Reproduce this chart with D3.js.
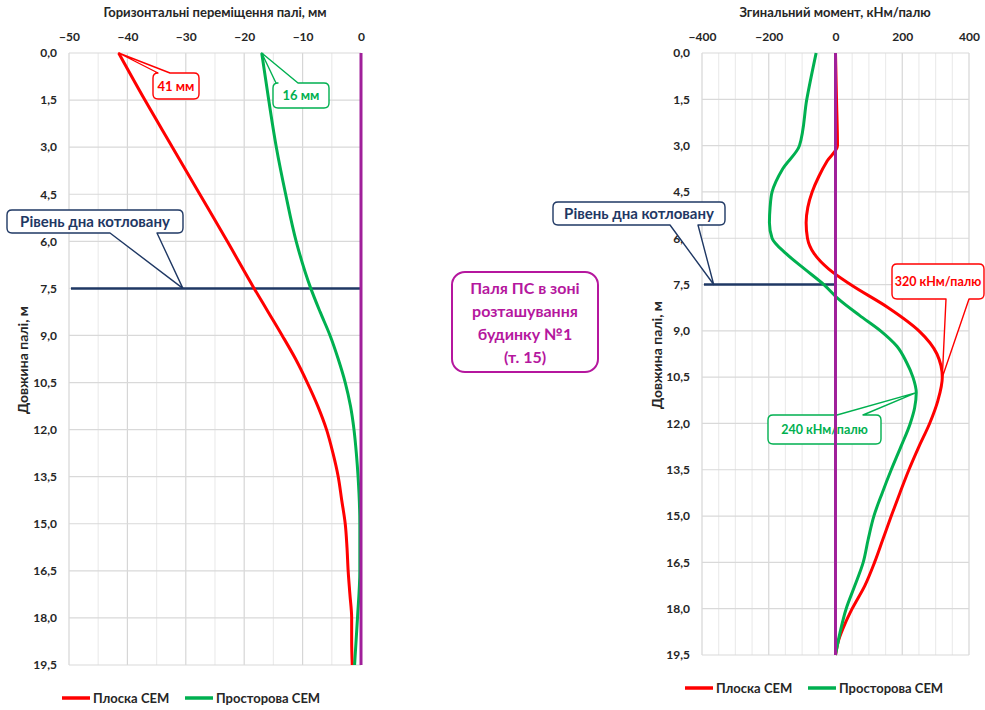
<!DOCTYPE html>
<html><head><meta charset="utf-8">
<script src="https://cdn.jsdelivr.net/npm/d3@7"></script>
<style>
body{margin:0;background:#fff}
svg{display:block}
text{font-family:Lato,'Open Sans',sans-serif;font-weight:700}
</style>
</head><body>
<svg id="c" width="985" height="710"></svg>
<script>
// ---------- DATA ----------
const depthTicks = [0, 1.5, 3, 4.5, 6, 7.5, 9, 10.5, 12, 13.5, 15, 16.5, 18, 19.5];
const dispTicks = [-50, -40, -30, -20, -10, 0];
const momTicks = [-400, -200, 0, 200, 400];
const seriesNames = ["Плоска СЕМ", "Просторова СЕМ"];

// Horizontal displacement, mm
const dispDepthPlain = [0, 1.5, 3, 4.5, 6, 7.5, 8.25, 9, 9.75, 10.5, 11.25, 12, 12.75, 13.5, 14.25, 15, 15.75, 16.5, 17.25, 18, 18.75, 19.5];
const dispPlain = [-41.5, -37.0, -32.3, -27.6, -22.9, -18.3, -15.9, -13.5, -11.2, -9.2, -7.4, -5.9, -4.8, -3.9, -3.3, -2.7, -2.4, -2.2, -1.9, -1.6, -1.6, -1.5];
const dispDepthSpatial = [0, 1.5, 3, 4.5, 6, 7.5, 8.25, 9, 9.75, 10.5, 11.25, 12, 12.75, 13.5, 15, 16.5, 18, 19.5];
const dispSpatial = [-17.0, -15.8, -14.5, -12.9, -11.1, -8.6, -7.0, -5.3, -3.9, -2.7, -1.8, -1.2, -0.8, -0.5, -0.2, -0.2, -0.6, -1.1];

// Bending moment, kNm/pile
const momDepthPlain = [0, 1.5, 3, 3.5, 4, 4.5, 5, 5.5, 6, 6.5, 7, 7.5, 8.25, 9, 9.75, 10.5, 11.25, 12, 12.75, 13.5, 14.25, 15, 15.75, 16.5, 17.25, 18, 18.5, 19, 19.5];
const momPlain = [0, 3, 6, -25, -50, -70, -83, -88, -84, -64, -20, 45, 158, 250, 304, 320, 307, 282, 250, 220, 193, 167, 142, 117, 88, 50, 28, 10, 0];
const momDepthSpatial = [0, 1.5, 3, 3.75, 4.5, 5, 5.5, 6, 6.5, 7, 7.5, 8, 8.5, 9, 9.5, 10, 10.5, 11, 11.5, 12, 12.75, 13.5, 14.25, 15, 15.75, 16.5, 17.25, 18, 18.75, 19.5];
const momSpatial = [-58, -86, -108, -158, -190, -196, -198, -190, -148, -92, -35, 12, 72, 135, 184, 212, 232, 242, 237, 224, 196, 167, 140, 115, 98, 83, 58, 32, 14, 0];

const excavationDepth = 7.5;
const dispPeaks = [{label: "41 мм", depth: 0, value: -41.5}, {label: "16 мм", depth: 0, value: -17.0}];
const momPeaks = [{label: "320 кНм/палю", depth: 10.5, value: 320}, {label: "240 кНм/палю", depth: 11.0, value: 242}];

// ---------- STYLE ----------
const RED = "#ff0000", GREEN = "#00b050", NAVY = "#1f3864", PURPLE = "#a0209a", MAGENTA = "#b5179e";
const svg = d3.select("#c");
const fmt = d => d.toFixed(1).replace(".", ",");

function calloutPath(x0, y0, x1, y1, r, side, a, b, tx, ty) {
  let p = `M${x0 + r},${y0}`;
  if (side === "top") p += `L${a},${y0}L${tx},${ty}L${b},${y0}`;
  p += `L${x1 - r},${y0}Q${x1},${y0} ${x1},${y0 + r}L${x1},${y1 - r}Q${x1},${y1} ${x1 - r},${y1}`;
  if (side === "bottom") p += `L${b},${y1}L${tx},${ty}L${a},${y1}`;
  p += `L${x0 + r},${y1}Q${x0},${y1} ${x0},${y1 - r}L${x0},${y0 + r}Q${x0},${y0} ${x0 + r},${y0}Z`;
  return p;
}
function callout(g, box, side, a, b, tip, color, text, fs) {
  g.append("path").attr("d", calloutPath(box[0], box[1], box[2], box[3], 5, side, a, b, tip[0], tip[1]))
    .attr("fill", "#fff").attr("stroke", color).attr("stroke-width", 1.4).attr("stroke-linejoin", "round");
  g.append("text").attr("x", (box[0] + box[2]) / 2).attr("y", (box[1] + box[3]) / 2)
    .attr("dy", "0.35em").attr("text-anchor", "middle").attr("fill", color)
    .style("font-size", fs + "px").text(text);
}

function panel(cfg) {
  const g = svg.append("g");
  const x = d3.scaleLinear().domain(cfg.xDomain).range(cfg.xRange);
  const y = d3.scaleLinear().domain([0, 19.5]).range(cfg.yRange);
  const step = cfg.minorStep;
  const vgrid = d3.range(cfg.xDomain[0], cfg.xDomain[1] + step / 2, step);
  g.selectAll(".vg").data(vgrid).join("line")
    .attr("x1", d => x(d)).attr("x2", d => x(d)).attr("y1", y(0)).attr("y2", y(19.5))
    .attr("stroke", d => (Math.abs(d / cfg.majorStep - Math.round(d / cfg.majorStep)) < 1e-6) ? "#d6d6d6" : "#ececec")
    .attr("stroke-width", 1.2);
  g.selectAll(".hg").data(depthTicks).join("line")
    .attr("x1", x(cfg.xDomain[0])).attr("x2", x(cfg.xDomain[1])).attr("y1", d => y(d)).attr("y2", d => y(d))
    .attr("stroke", "#d9d9d9").attr("stroke-width", 1.2);
  const xa = g.append("g").attr("transform", `translate(0,${cfg.yRange[0] - 12})`)
    .call(d3.axisTop(x).tickValues(cfg.ticks).tickSize(0).tickPadding(0).tickFormat(d => d3.format("d")(d)));
  xa.select(".domain").remove();
  xa.selectAll("text").style("font-size", "12px").attr("fill", "#262626").style("font-family", "Lato,sans-serif").style("font-weight", 700);
  const ya = g.append("g").attr("transform", `translate(${cfg.xRange[0] - 12},0)`)
    .call(d3.axisLeft(y).tickValues(depthTicks).tickSize(0).tickPadding(0).tickFormat(fmt));
  ya.select(".domain").remove();
  ya.selectAll("text").style("font-size", "12px").attr("fill", "#262626").style("font-family", "Lato,sans-serif").style("font-weight", 700);
  g.append("text").attr("x", cfg.titleX).attr("y", 17).attr("text-anchor", "middle")
    .style("font-size", "13px").attr("fill", "#262626").text(cfg.title);
  g.append("text").attr("transform", `translate(${cfg.yTitleX},${cfg.yTitleY}) rotate(-90)`).attr("text-anchor", "middle")
    .style("font-size", "14px").attr("fill", "#262626").text("Довжина палі, м");
  g.append("line").attr("x1", x(cfg.xDomain[0]) + 2).attr("x2", x(0)).attr("y1", y(excavationDepth)).attr("y2", y(excavationDepth))
    .attr("stroke", NAVY).attr("stroke-width", 2.5);
  const line = d3.line().x(d => x(d[1])).y(d => y(d[0])).curve(d3.curveMonotoneY);
  cfg.series.forEach(s => {
    g.append("path").datum(d3.zip(s.depth, s.values)).attr("d", line)
      .attr("fill", "none").attr("stroke", s.color).attr("stroke-width", 3).attr("stroke-linejoin", "round");
  });
  cfg.after(g, x, y);
  g.append("line").attr("x1", x(0)).attr("x2", x(0)).attr("y1", y(0)).attr("y2", y(19.5))
    .attr("stroke", PURPLE).attr("stroke-width", 3);
  const lg = g.append("g");
  cfg.legend.forEach((L, i) => {
    lg.append("line").attr("x1", L[0]).attr("x2", L[0] + 28).attr("y1", cfg.legendY).attr("y2", cfg.legendY)
      .attr("stroke", i === 0 ? RED : GREEN).attr("stroke-width", 3.5);
    lg.append("text").attr("x", L[0] + 31).attr("y", cfg.legendY).attr("dy", "0.35em")
      .style("font-size", "13px").attr("fill", "#262626").text(seriesNames[i]);
  });
}

panel({
  xDomain: [-50, 0], xRange: [69, 361], yRange: [53, 665], ticks: dispTicks, minorStep: 5, majorStep: 10,
  title: "Горизонтальні переміщення палі, мм", titleX: 215, yTitleX: 28, yTitleY: 360,
  series: [{depth: dispDepthPlain, values: dispPlain, color: RED}, {depth: dispDepthSpatial, values: dispSpatial, color: GREEN}],
  legend: [[62], [185]], legendY: 698,
  after: (g, x, y) => {
    callout(g, [7, 210, 183, 233], "bottom", 110, 157, [x(-30.5), y(excavationDepth)], NAVY, "Рівень дна котловану", 15);
    callout(g, [153, 73, 199, 99], "top", 158, 170, [x(dispPeaks[0].value), y(dispPeaks[0].depth)], RED, dispPeaks[0].label, 13);
    callout(g, [273, 83, 329, 108], "top", 276, 298, [x(dispPeaks[1].value), y(dispPeaks[1].depth)], GREEN, dispPeaks[1].label, 13);
  }
});

panel({
  xDomain: [-400, 400], xRange: [702, 969], yRange: [53, 655], ticks: momTicks, minorStep: 50, majorStep: 200,
  title: "Згинальний момент, кНм/палю", titleX: 835, yTitleX: 662, yTitleY: 355,
  series: [{depth: momDepthPlain, values: momPlain, color: RED}, {depth: momDepthSpatial, values: momSpatial, color: GREEN}],
  legend: [[685], [808]], legendY: 688,
  after: (g, x, y) => {
    callout(g, [553, 202, 725, 225], "bottom", 670, 698, [x(-365), y(excavationDepth)], NAVY, "Рівень дна котловану", 15);
    callout(g, [892, 264, 984, 299], "bottom", 946, 969, [x(momPeaks[0].value), y(momPeaks[0].depth)], RED, momPeaks[0].label, 12.5);
    callout(g, [768, 415, 881, 444], "top", 837, 863, [x(momPeaks[1].value), y(momPeaks[1].depth)], GREEN, momPeaks[1].label, 12.5);
  }
});

const cg = svg.append("g");
cg.append("rect").attr("x", 452).attr("y", 272).attr("width", 146).attr("height", 100).attr("rx", 13)
  .attr("fill", "#fff").attr("stroke", MAGENTA).attr("stroke-width", 2);
const centreLines = ["Паля ПС в зоні", "розташування", "будинку №1", "(т. 15)"];
cg.selectAll("text").data(centreLines).join("text")
  .attr("x", 525).attr("y", (d, i) => 288 + i * 23).attr("dy", "0.35em").attr("text-anchor", "middle")
  .attr("fill", MAGENTA).style("font-size", "16px").text(d => d);
</script>
</body></html>
